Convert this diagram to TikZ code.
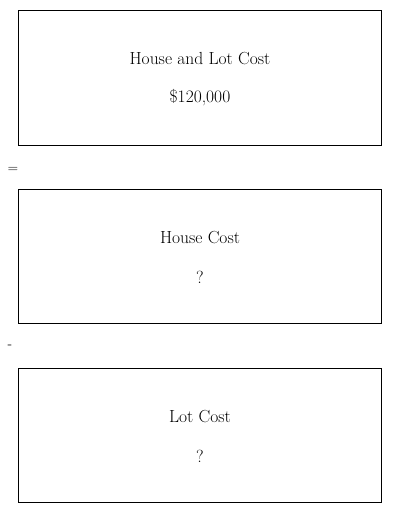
\documentclass[tikz,border=0pt]{standalone}
\begin{document}
\begin{tikzpicture}[x=1pt,y=-1pt,
  box/.style={draw=black, line width=1pt, minimum width=363pt, minimum height=134.5pt, inner sep=0pt},
  lbl/.style={font=\fontsize{17.5}{20}\selectfont, inner sep=0pt, anchor=center},
  sym/.style={font=\fontsize{14}{16}\selectfont, inner sep=0pt, anchor=center}]
\useasboundingbox (0,0) rectangle (400,514);
\node[box] (b1) at (200,77.75) {};
\node[box] (b2) at (200,256.5) {};
\node[box] (b3) at (200,435.5) {};
\node[lbl] (t1a) at (200,59) {House and Lot Cost};
\node[lbl] (t1b) at (200,98) {\$120,000};
\node[lbl] (t2a) at (200,238) {House Cost};
\node[lbl] (t2b) at (200,277) {?};
\node[lbl] (t3a) at (200,417) {Lot Cost};
\node[lbl] (t3b) at (200,456) {?};
\node[sym] (eq) at (13,170) {=};
\node[sym] (mi) at (10,347) {-};
\end{tikzpicture}
\end{document}
